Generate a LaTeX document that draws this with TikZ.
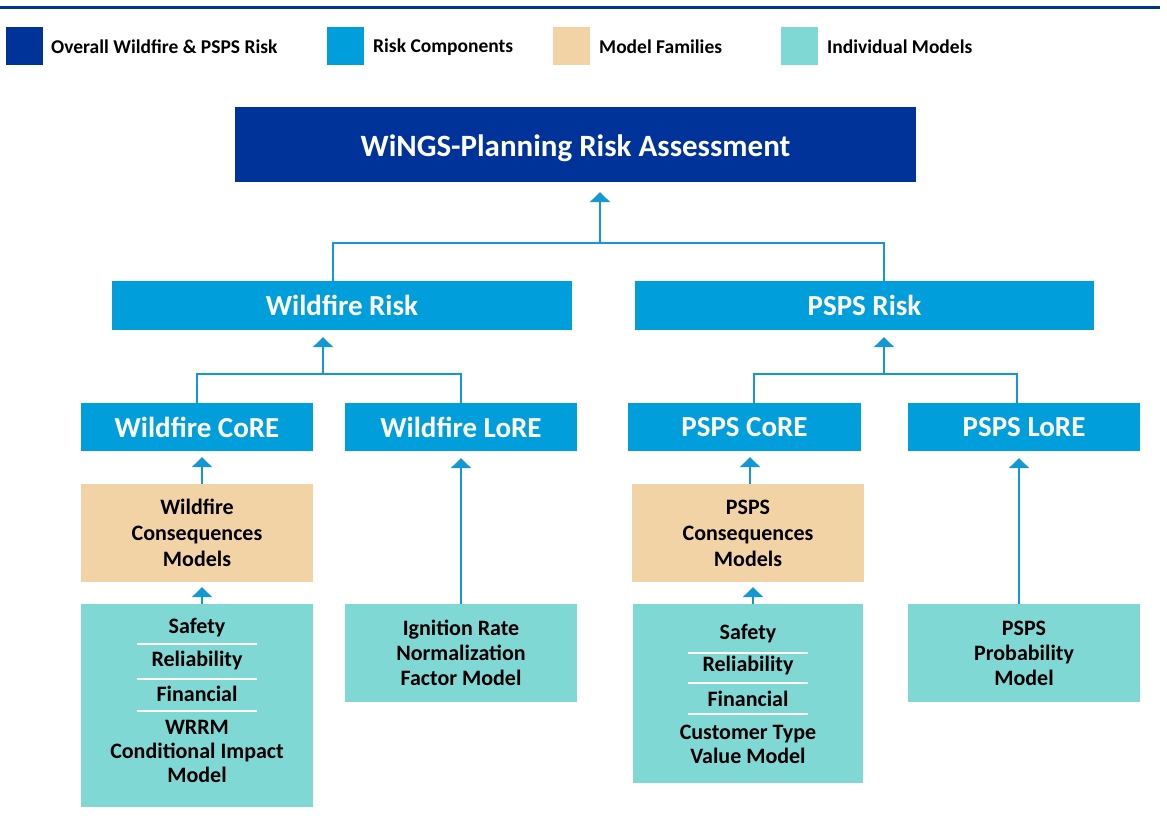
\documentclass[tikz,border=0pt]{standalone}
\usepackage{fontspec}
\setmainfont{Carlito}
\usetikzlibrary{arrows.meta}
\definecolor{dblue}{RGB}{0,51,153}
\definecolor{rblue}{RGB}{0,158,219}
\definecolor{mtan}{RGB}{242,211,166}
\definecolor{mteal}{RGB}{128,216,212}
\definecolor{lblue}{RGB}{20,152,212}
\begin{document}
\begin{tikzpicture}[x=1pt,y=-1pt,
  bx/.style={inner sep=0pt, align=center, font=\bfseries},
  overall/.style={bx, fill=dblue, text=white, font=\bfseries\fontsize{31}{34}\selectfont, text height=24pt, text depth=0pt},
  comp/.style={bx, fill=rblue, text=white, font=\bfseries\fontsize{29}{33}\selectfont},
  family/.style={bx, fill=mtan, text=black, font=\bfseries\fontsize{22}{26}\selectfont},
  indiv/.style={bx, fill=mteal, text=black, font=\bfseries\fontsize{22}{25}\selectfont},
  itxt/.style={inner sep=0pt, align=center, text=black, font=\bfseries\fontsize{22}{24}\selectfont},
  legsq/.style={inner sep=0pt, minimum width=37pt, minimum height=38pt},
  legtxt/.style={anchor=west, inner sep=0pt, font=\bfseries\fontsize{19.5}{22}\selectfont},
  conn/.style={draw=lblue, line width=2.5pt},
  arr/.style={conn, -{Triangle[width=20pt,length=10pt]}},
  sepl/.style={draw=white, line width=2pt}
]
\useasboundingbox (0,0) rectangle (1167,826);
% top rule
\draw[dblue, line width=3pt] (0,8) -- (1160,8);
% legend
\node[legsq, fill=dblue] (lg1) at (24,46) {};
\node[legtxt] (lt1) at (51,47) {Overall Wildfire \& PSPS Risk};
\node[legsq, fill=rblue] (lg2) at (345.5,46) {};
\node[legtxt] (lt2) at (373,47) {Risk Components};
\node[legsq, fill=mtan] (lg3) at (571.5,46) {};
\node[legtxt] (lt3) at (599,47) {Model Families};
\node[legsq, fill=mteal] (lg4) at (799.5,46) {};
\node[legtxt] (lt4) at (827,47) {Individual Models};
% level 0
\node[overall, minimum width=681pt, minimum height=75pt] (top) at (575.5,144.5) {WiNGS-Planning Risk Assessment};
% level 1
\node[comp, minimum width=460pt, minimum height=49pt] (wr) at (342,305.5) {Wildfire Risk};
\node[comp, minimum width=459pt, minimum height=49pt] (pr) at (864.5,305.5) {PSPS Risk};
% level 2
\node[comp, minimum width=232pt, minimum height=48pt] (wc) at (197,427) {Wildfire CoRE};
\node[comp, minimum width=232pt, minimum height=48pt] (wl) at (461,427) {Wildfire LoRE};
\node[comp, minimum width=233pt, minimum height=48pt] (pc) at (744.5,427) {PSPS CoRE};
\node[comp, minimum width=232pt, minimum height=48pt] (pl) at (1024,427) {PSPS LoRE};
% families
\node[family, minimum width=232pt, minimum height=98pt] (wcm) at (197,533) {Wildfire\\Consequences\\Models};
\node[family, minimum width=232pt, minimum height=98pt] (pcm) at (748,533) {PSPS\\Consequences\\Models};
% individual models
\node[indiv, minimum width=232pt, minimum height=203pt] (wim) at (197,705.5) {};
\node[indiv, minimum width=232pt, minimum height=98pt] (ign) at (461,653) {Ignition Rate\\Normalization\\Factor Model};
\node[indiv, minimum width=230pt, minimum height=179pt] (pim) at (748,693.5) {};
\node[indiv, minimum width=232pt, minimum height=98pt] (pprob) at (1024,653) {PSPS\\Probability\\Model};
% wildfire individual items
\node[itxt] (ws) at (197,628) {Safety};
\node[itxt] (wrl) at (197,661) {Reliability};
\node[itxt] (wf) at (197,694) {Financial};
\node[itxt] (ww) at (197,751) {WRRM\\Conditional Impact\\Model};
\draw[sepl] (137,644) -- (257,644);
\draw[sepl] (137,679) -- (257,679);
\draw[sepl] (137,711) -- (257,711);
% PSPS individual items
\node[itxt] (ps) at (748,634) {Safety};
\node[itxt] (prl) at (748,666) {Reliability};
\node[itxt] (pf) at (748,699) {Financial};
\node[itxt] (pct) at (748,744) {Customer Type\\Value Model};
\draw[sepl] (688,653) -- (808,653);
\draw[sepl] (688,683) -- (808,683);
\draw[sepl] (688,714) -- (808,714);
% connectors level 1 -> top
\coordinate (j0) at (600,243);
\coordinate (j0l) at (333,243);
\coordinate (j0r) at (884,243);
\draw[conn] (j0l |- wr.north) -- (j0l) -- (j0r) -- (j0r |- pr.north);
\draw[arr, shorten >=10pt] (j0) -- (j0 |- top.south);
% level 2 -> level 1 (wildfire)
\coordinate (j1) at (323,374);
\coordinate (j1l) at (197,374);
\coordinate (j1r) at (461,374);
\draw[conn] (j1l |- wc.north) -- (j1l) -- (j1r) -- (j1r |- wl.north);
\draw[arr, shorten >=7pt] (j1) -- (j1 |- wr.south);
% level 2 -> level 1 (PSPS)
\coordinate (j2) at (884,374);
\coordinate (j2l) at (754,374);
\coordinate (j2r) at (1017,374);
\draw[conn] (j2l |- pc.north) -- (j2l) -- (j2r) -- (j2r |- pl.north);
\draw[arr, shorten >=7pt] (j2) -- (j2 |- pr.south);
% families -> components
\draw[arr, shorten >=6pt] ([xshift=5pt]wcm.north) -- ([xshift=5pt]wcm.north |- wc.south);
\draw[arr, shorten >=6pt] ([xshift=2pt]pcm.north) -- ([xshift=2pt]pcm.north |- pc.south);
% individual -> families / components
\draw[arr, shorten >=5pt] ([xshift=5pt]wim.north) -- ([xshift=5pt]wim.north |- wcm.south);
\draw[arr, shorten >=5pt] ([xshift=5pt]pim.north) -- ([xshift=5pt]pim.north |- pcm.south);
\draw[arr, shorten >=7pt] (ign.north) -- (ign.north |- wl.south);
\draw[arr, shorten >=7pt] ([xshift=-5pt]pprob.north) -- ([xshift=-5pt]pprob.north |- pl.south);
\end{tikzpicture}
\end{document}
